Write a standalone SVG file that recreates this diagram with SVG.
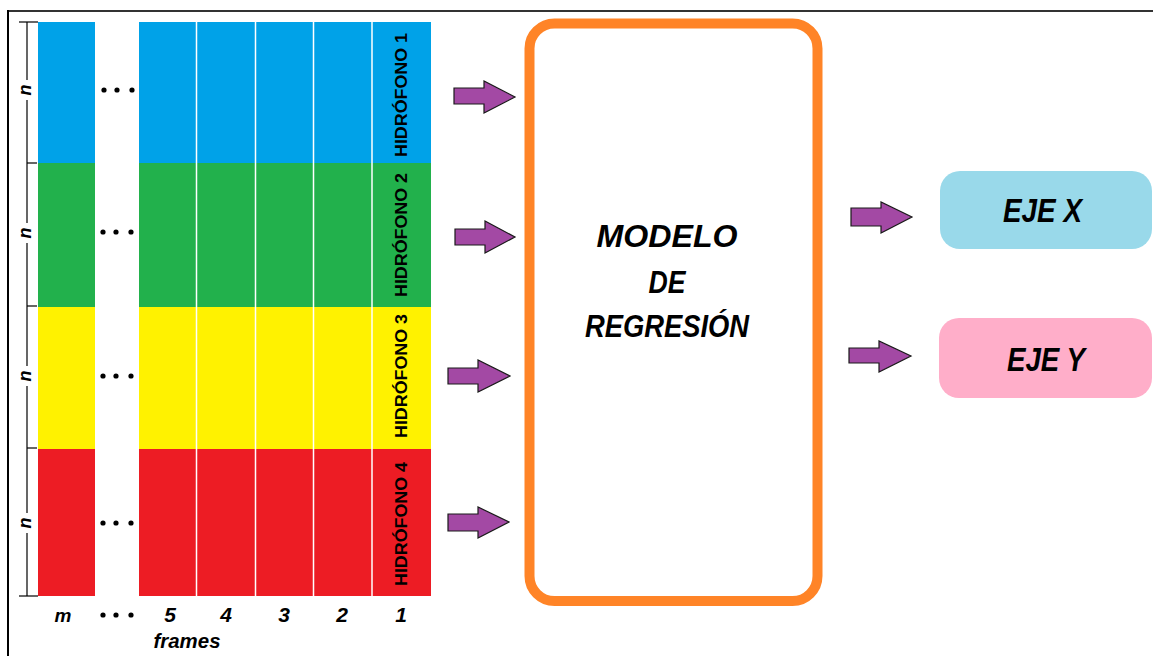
<svg xmlns="http://www.w3.org/2000/svg" width="1153" height="656" viewBox="0 0 1153 656">
<style>
.blue{fill:#00A2E8}.green{fill:#22B14C}.yellow{fill:#FFF200}.red{fill:#ED1C24}
.sep{stroke:#ffffff;stroke-width:1.5}
.hid{font-family:"Liberation Sans",Arial,sans-serif;font-weight:bold;font-size:17px;fill:#000;text-anchor:middle}
.lab{font-family:"Liberation Sans",Arial,sans-serif;font-weight:bold;font-style:italic;fill:#000;text-anchor:middle}
.arrow{fill:#A349A4;stroke:#1a1a1a;stroke-width:1.2;stroke-linejoin:miter}
.tick{stroke:#000;stroke-width:1.2;fill:none}
.dot{fill:#000}
</style>
<rect width="1153" height="656" fill="#ffffff"/>
<line x1="7" y1="11" x2="1153" y2="11" stroke="#333" stroke-width="2"/>
<line x1="8" y1="10" x2="8" y2="656" stroke="#000" stroke-width="2"/>

<g id="matrix">
  <rect class="blue" x="38" y="22" width="57" height="141"/>
  <rect class="green" x="38" y="163" width="57" height="144"/>
  <rect class="yellow" x="38" y="307" width="57" height="142"/>
  <rect class="red" x="38" y="449" width="57" height="147"/>
  <rect class="blue" x="139" y="22" width="292" height="141"/>
  <rect class="green" x="139" y="163" width="292" height="144"/>
  <rect class="yellow" x="139" y="307" width="292" height="142"/>
  <rect class="red" x="139" y="449" width="292" height="147"/>
  <line class="sep" x1="196.5" y1="22" x2="196.5" y2="596"/>
  <line class="sep" x1="255.5" y1="22" x2="255.5" y2="596"/>
  <line class="sep" x1="313.5" y1="22" x2="313.5" y2="596"/>
  <line class="sep" x1="372" y1="22" x2="372" y2="596"/>
  <g fill="#000">
    <circle class="dot" cx="104" cy="90" r="2.6"/><circle class="dot" cx="117" cy="90" r="2.6"/><circle class="dot" cx="132" cy="90" r="2.6"/>
    <circle class="dot" cx="103" cy="232" r="2.6"/><circle class="dot" cx="116" cy="232" r="2.6"/><circle class="dot" cx="131" cy="232" r="2.6"/>
    <circle class="dot" cx="103" cy="376" r="2.6"/><circle class="dot" cx="116" cy="376" r="2.6"/><circle class="dot" cx="131" cy="376" r="2.6"/>
    <circle class="dot" cx="103" cy="523" r="2.6"/><circle class="dot" cx="116" cy="523" r="2.6"/><circle class="dot" cx="131" cy="523" r="2.6"/>
    <circle class="dot" cx="103" cy="615" r="2.6"/><circle class="dot" cx="116" cy="615" r="2.6"/><circle class="dot" cx="131" cy="615" r="2.6"/>
  </g>
  <text class="hid" transform="translate(407,95) rotate(-90)" textLength="124" lengthAdjust="spacingAndGlyphs">HIDRÓFONO 1</text>
  <text class="hid" transform="translate(407,235) rotate(-90)" textLength="124" lengthAdjust="spacingAndGlyphs">HIDRÓFONO 2</text>
  <text class="hid" transform="translate(407,376) rotate(-90)" textLength="124" lengthAdjust="spacingAndGlyphs">HIDRÓFONO 3</text>
  <text class="hid" transform="translate(407,524) rotate(-90)" textLength="124" lengthAdjust="spacingAndGlyphs">HIDRÓFONO 4</text>
</g>

<g id="scale">
  <line class="tick" x1="27" y1="22" x2="27" y2="80"/>
  <line class="tick" x1="27" y1="100" x2="27" y2="223"/>
  <line class="tick" x1="27" y1="243" x2="27" y2="366"/>
  <line class="tick" x1="27" y1="386" x2="27" y2="513"/>
  <line class="tick" x1="27" y1="533" x2="27" y2="596"/>
  <line class="tick" x1="19" y1="22" x2="38" y2="22"/>
  <line class="tick" x1="27" y1="163" x2="37" y2="163"/>
  <line class="tick" x1="27" y1="306" x2="37" y2="306"/>
  <line class="tick" x1="27" y1="448" x2="37" y2="448"/>
  <line class="tick" x1="19" y1="596" x2="38" y2="596"/>
  <text class="lab" font-size="18" transform="translate(31,90) rotate(-90)">n</text>
  <text class="lab" font-size="18" transform="translate(31,233) rotate(-90)">n</text>
  <text class="lab" font-size="18" transform="translate(31,376) rotate(-90)">n</text>
  <text class="lab" font-size="18" transform="translate(31,523) rotate(-90)">n</text>
</g>

<g id="axis-labels">
  <text class="lab" font-size="19" x="63" y="622">m</text>
  <text class="lab" font-size="21" x="170" y="622">5</text>
  <text class="lab" font-size="21" x="226" y="622">4</text>
  <text class="lab" font-size="21" x="284" y="622">3</text>
  <text class="lab" font-size="21" x="342" y="622">2</text>
  <text class="lab" font-size="21" x="401" y="622">1</text>
  <text class="lab" font-size="21" x="187" y="648" textLength="67" lengthAdjust="spacingAndGlyphs">frames</text>
</g>

<g id="modelo">
  <rect x="529.5" y="23.5" width="288" height="577.5" rx="25" ry="25" fill="none" stroke="#FF8427" stroke-width="10"/>
  <text class="lab" font-size="32" x="667" y="247" textLength="141" lengthAdjust="spacingAndGlyphs">MODELO</text>
  <text class="lab" font-size="32" x="667" y="293" textLength="37" lengthAdjust="spacingAndGlyphs">DE</text>
  <text class="lab" font-size="32" x="667" y="337" textLength="164" lengthAdjust="spacingAndGlyphs">REGRESIÓN</text>
</g>

<g id="eje-x">
  <rect x="940" y="171" width="212" height="78" rx="20" ry="20" fill="#99D9EA"/>
  <text class="lab" font-size="34" x="1042.5" y="222" textLength="79" lengthAdjust="spacingAndGlyphs">EJE X</text>
</g>

<g id="eje-y">
  <rect x="939" y="318" width="213" height="80" rx="20" ry="20" fill="#FFAEC9"/>
  <text class="lab" font-size="33" x="1046" y="371" textLength="78" lengthAdjust="spacingAndGlyphs">EJE Y</text>
</g>

<g id="connectors">
  <polygon class="arrow" points="454,88 484,88 484,81 515,97 484,113 484,104 454,104"/>
  <polygon class="arrow" points="455,229 485,229 485,221 515,237 485,253 485,245 455,245"/>
  <polygon class="arrow" points="448,368 478,368 478,360 510,376 478,392 478,384 448,384"/>
  <polygon class="arrow" points="448,514 478,514 478,507 509,522 478,538 478,531 448,531"/>
  <polygon class="arrow" points="851,208 881,208 881,202 912,217 881,233 881,226 851,226"/>
  <polygon class="arrow" points="849,348 879,348 879,341 911,356 879,372 879,363 849,363"/>
</g>
</svg>
